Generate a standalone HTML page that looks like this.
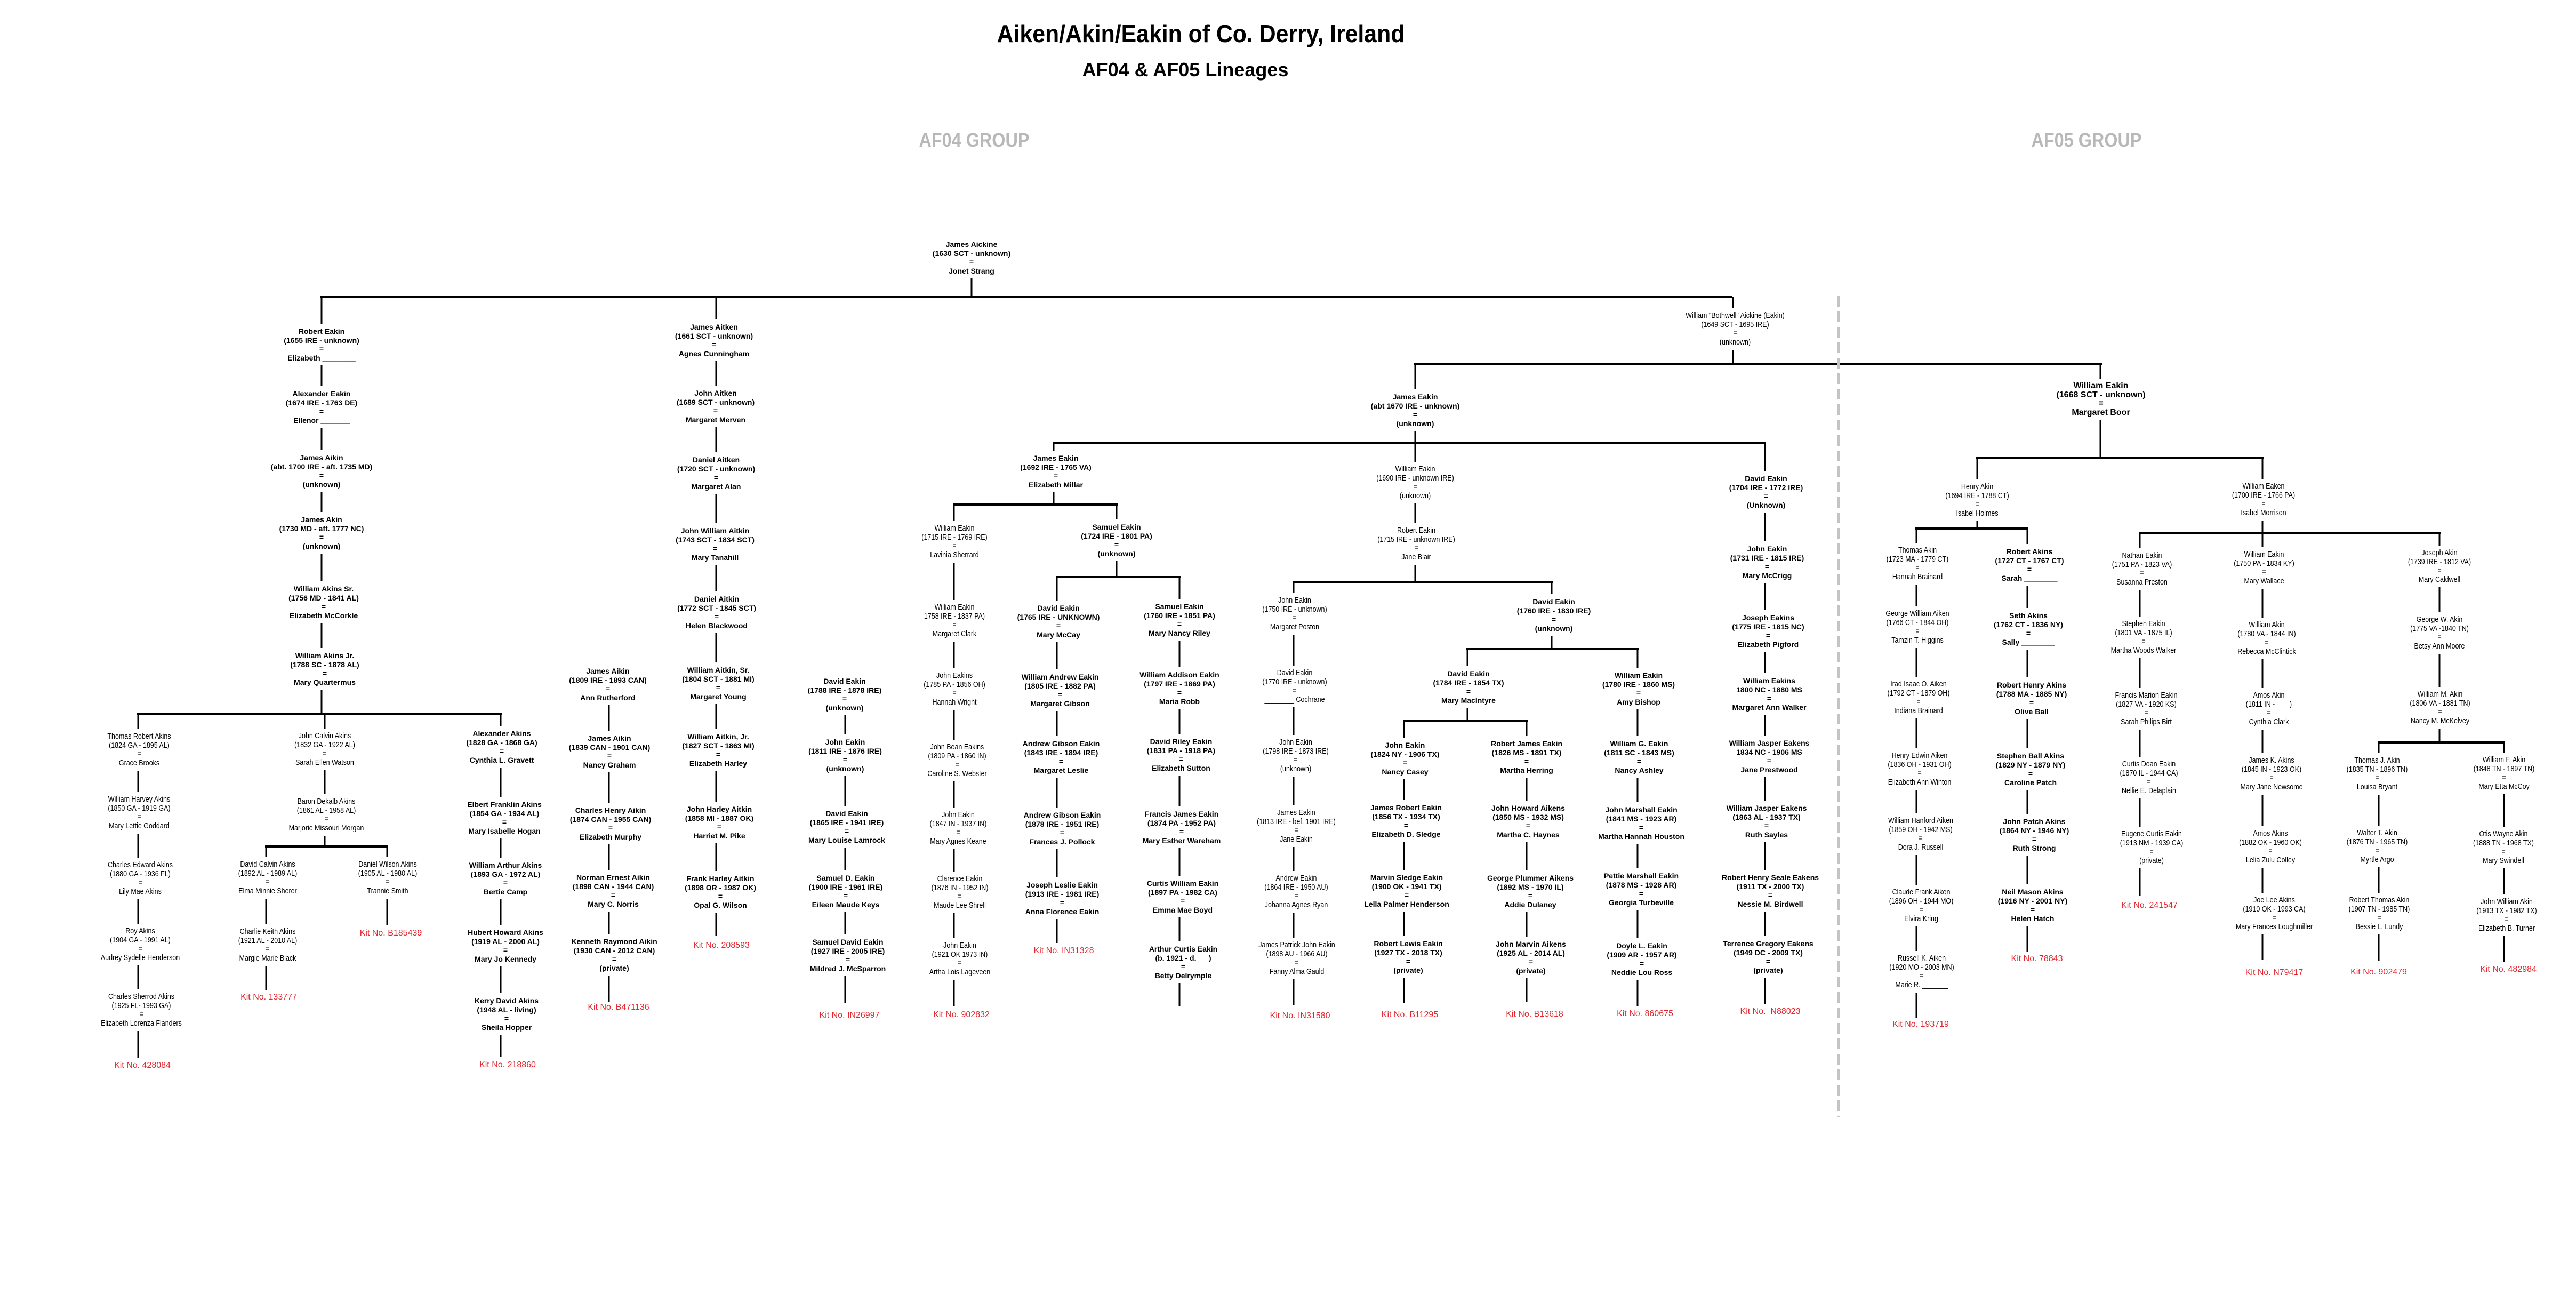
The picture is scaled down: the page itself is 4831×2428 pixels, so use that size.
<!DOCTYPE html>
<html><head><meta charset="utf-8">
<style>
html,body{margin:0;padding:0;background:#fff}
body{width:4831px;height:2428px;position:relative;overflow:hidden;font-family:"Liberation Sans",Arial,sans-serif;color:#000}
svg{position:absolute;left:0;top:0}
.n{position:absolute;transform:translateX(-50%);background:#fff;padding:6px 4px;text-align:center;white-space:nowrap;font-weight:bold;font-size:14px;line-height:16.5px}
.s{font-weight:normal;transform:translateX(-50%) scaleX(.86);font-size:14.5px}
.k{position:absolute;transform:translateX(-50%);color:#e3262e;font-size:16px;white-space:nowrap;line-height:18px}
.t{position:absolute;transform:translateX(-50%);font-weight:bold;white-space:nowrap}
.g{position:absolute;transform:translateX(-50%);font-weight:bold;color:#b8b8b8;font-size:36px;white-space:nowrap}
</style></head><body>
<div class="t" style="left:2252px;top:36px;font-size:46px;transform:translateX(-50%) scaleX(.93)">Aiken/Akin/Eakin of Co. Derry, Ireland</div>
<div class="t" style="left:2223px;top:110px;font-size:36px;transform:translateX(-50%) scaleX(1)">AF04 &amp; AF05 Lineages</div>
<div class="g" style="left:1827px;top:242px;transform:translateX(-50%) scaleX(.9)">AF04 GROUP</div>
<div class="g" style="left:3913px;top:242px;transform:translateX(-50%) scaleX(.9)">AF05 GROUP</div>

<svg width="4831" height="2428" xmlns="http://www.w3.org/2000/svg">
<g stroke="#000" stroke-width="4" fill="none">
<line x1="601" y1="557" x2="3249" y2="557"/>
<line x1="257" y1="1338" x2="941" y2="1338"/>
<line x1="497" y1="1587" x2="728" y2="1587"/>
<line x1="2652" y1="683" x2="3942" y2="683"/>
<line x1="1974" y1="830" x2="3312" y2="830"/>
<line x1="1787" y1="946" x2="2096" y2="946"/>
<line x1="1980" y1="1082" x2="2214" y2="1082"/>
<line x1="2424" y1="1091" x2="2912" y2="1091"/>
<line x1="2750" y1="1217" x2="3073" y2="1217"/>
<line x1="2631" y1="1352" x2="2865" y2="1352"/>
<line x1="3706" y1="859" x2="4245" y2="859"/>
<line x1="3592" y1="991" x2="3804" y2="991"/>
<line x1="4011" y1="999" x2="4577" y2="999"/>
<line x1="4459" y1="1392" x2="4698" y2="1392"/>
</g>
<g stroke="#000" stroke-width="3" fill="none">
<line x1="1822" y1="470" x2="1822" y2="557"/>
<line x1="603" y1="555" x2="603" y2="1338"/>
<line x1="259" y1="1336" x2="259" y2="1983"/>
<line x1="609" y1="1338" x2="609" y2="1587"/>
<line x1="499" y1="1585" x2="499" y2="1857"/>
<line x1="726" y1="1585" x2="726" y2="1734"/>
<line x1="939" y1="1336" x2="939" y2="1981"/>
<line x1="1142" y1="1270" x2="1142" y2="1878"/>
<line x1="1343" y1="557" x2="1343" y2="1755"/>
<line x1="1585" y1="1290" x2="1585" y2="1880"/>
<line x1="3250" y1="557" x2="3250" y2="683"/>
<line x1="2654" y1="683" x2="2654" y2="1091"/>
<line x1="1976" y1="828" x2="1976" y2="946"/>
<line x1="1789" y1="944" x2="1789" y2="1886"/>
<line x1="2094" y1="946" x2="2094" y2="1082"/>
<line x1="1982" y1="1080" x2="1982" y2="1768"/>
<line x1="2212" y1="1080" x2="2212" y2="1887"/>
<line x1="2426" y1="1089" x2="2426" y2="1884"/>
<line x1="2910" y1="1089" x2="2910" y2="1217"/>
<line x1="2752" y1="1215" x2="2752" y2="1352"/>
<line x1="2633" y1="1350" x2="2633" y2="1880"/>
<line x1="2863" y1="1350" x2="2863" y2="1878"/>
<line x1="3071" y1="1215" x2="3071" y2="1886"/>
<line x1="3310" y1="828" x2="3310" y2="1882"/>
<line x1="3939" y1="681" x2="3939" y2="859"/>
<line x1="3708" y1="857" x2="3708" y2="991"/>
<line x1="3594" y1="989" x2="3594" y2="1908"/>
<line x1="3802" y1="989" x2="3802" y2="1784"/>
<line x1="4243" y1="859" x2="4243" y2="1800"/>
<line x1="4013" y1="997" x2="4013" y2="1680"/>
<line x1="4575" y1="997" x2="4575" y2="1392"/>
<line x1="4461" y1="1390" x2="4461" y2="1802"/>
<line x1="4696" y1="1390" x2="4696" y2="1803"/>
</g>
<line x1="3448" y1="555" x2="3448" y2="2095" stroke="#c4c4c4" stroke-width="5" stroke-dasharray="20,9"/>
</svg>

<div class="n" style="left:1822px;top:444px">James Aickine<br>(1630 SCT - unknown)<br>=<br>Jonet Strang</div>

<div class="n" style="left:603px;top:607px">Robert Eakin<br>(1655 IRE - unknown)<br>=<br>Elizabeth ________</div>
<div class="n" style="left:603px;top:724px">Alexander Eakin<br>(1674 IRE - 1763 DE)<br>=<br>Ellenor _______</div>
<div class="n" style="left:603px;top:844px">James Aikin<br>(abt. 1700 IRE - aft. 1735 MD)<br>=<br>(unknown)</div>
<div class="n" style="left:603px;top:960px">James Akin<br>(1730 MD - aft. 1777 NC)<br>=<br>(unknown)</div>
<div class="n" style="left:607px;top:1090px">William Akins Sr.<br>(1756 MD - 1841 AL)<br>=<br>Elizabeth McCorkle</div>
<div class="n" style="left:609px;top:1215px">William Akins Jr.<br>(1788 SC - 1878 AL)<br>=<br>Mary Quartermus</div>

<div class="n s" style="left:261px;top:1367px">Thomas Robert Akins<br>(1824 GA - 1895 AL)<br>=<br>Grace Brooks</div>
<div class="n s" style="left:261px;top:1485px">William Harvey Akins<br>(1850 GA - 1919 GA)<br>=<br>Mary Lettie Goddard</div>
<div class="n s" style="left:263px;top:1608px">Charles Edward Akins<br>(1880 GA - 1936 FL)<br>=<br>Lily Mae Akins</div>
<div class="n s" style="left:263px;top:1732px">Roy Akins<br>(1904 GA - 1991 AL)<br>=<br>Audrey Sydelle Henderson</div>
<div class="n s" style="left:265px;top:1855px">Charles Sherrod Akins<br>(1925 FL- 1993 GA)<br>=<br>Elizabeth Lorenza Flanders</div>
<div class="k" style="left:267px;top:1989px">Kit No. 428084</div>

<div class="n s" style="left:609px;top:1366px">John Calvin Akins<br>(1832 GA - 1922 AL)<br>=<br>Sarah Ellen Watson</div>
<div class="n s" style="left:612px;top:1489px">Baron Dekalb Akins<br>(1861 AL - 1958 AL)<br>=<br>Marjorie Missouri Morgan</div>
<div class="n s" style="left:502px;top:1607px">David Calvin Akins<br>(1892 AL - 1989 AL)<br>=<br>Elma Minnie Sherer</div>
<div class="n s" style="left:502px;top:1733px">Charlie Keith Akins<br>(1921 AL - 2010 AL)<br>=<br>Margie Marie Black</div>
<div class="k" style="left:504px;top:1861px">Kit No. 133777</div>
<div class="n s" style="left:727px;top:1607px">Daniel Wilson Akins<br>(1905 AL - 1980 AL)<br>=<br>Trannie Smith</div>
<div class="k" style="left:733px;top:1741px">Kit No. B185439</div>

<div class="n" style="left:941px;top:1361px">Alexander Akins<br>(1828 GA - 1868 GA)<br>=<br>Cynthia L. Gravett</div>
<div class="n" style="left:946px;top:1494px">Elbert Franklin Akins<br>(1854 GA - 1934 AL)<br>=<br>Mary Isabelle Hogan</div>
<div class="n" style="left:948px;top:1608px">William Arthur Akins<br>(1893 GA - 1972 AL)<br>=<br>Bertie Camp</div>
<div class="n" style="left:948px;top:1734px">Hubert Howard Akins<br>(1919 AL - 2000 AL)<br>=<br>Mary Jo Kennedy</div>
<div class="n" style="left:950px;top:1862px">Kerry David Akins<br>(1948 AL - living)<br>=<br>Sheila Hopper</div>
<div class="k" style="left:952px;top:1988px">Kit No. 218860</div>

<div class="n" style="left:1140px;top:1244px">James Aikin<br>(1809 IRE - 1893 CAN)<br>=<br>Ann Rutherford</div>
<div class="n" style="left:1143px;top:1370px">James Aikin<br>(1839 CAN - 1901 CAN)<br>=<br>Nancy Graham</div>
<div class="n" style="left:1145px;top:1505px">Charles Henry Aikin<br>(1874 CAN - 1955 CAN)<br>=<br>Elizabeth Murphy</div>
<div class="n" style="left:1150px;top:1631px">Norman Ernest Aikin<br>(1898 CAN - 1944 CAN)<br>=<br>Mary C. Norris</div>
<div class="n" style="left:1152px;top:1751px">Kenneth Raymond Aikin<br>(1930 CAN - 2012 CAN)<br>=<br>(private)</div>
<div class="k" style="left:1160px;top:1880px">Kit No. B471136</div>

<div class="n" style="left:1339px;top:599px">James Aitken<br>(1661 SCT - unknown)<br>=<br>Agnes Cunningham</div>
<div class="n" style="left:1342px;top:723px">John Aitken<br>(1689 SCT - unknown)<br>=<br>Margaret Merven</div>
<div class="n" style="left:1343px;top:848px">Daniel Aitken<br>(1720 SCT - unknown)<br>=<br>Margaret Alan</div>
<div class="n" style="left:1341px;top:981px">John William Aitkin<br>(1743 SCT - 1834 SCT)<br>=<br>Mary Tanahill</div>
<div class="n" style="left:1344px;top:1109px">Daniel Aitkin<br>(1772 SCT - 1845 SCT)<br>=<br>Helen Blackwood</div>
<div class="n" style="left:1347px;top:1242px">William Aitkin, Sr.<br>(1804 SCT - 1881 MI)<br>=<br>Margaret Young</div>
<div class="n" style="left:1347px;top:1367px">William Aitkin, Jr.<br>(1827 SCT - 1863 MI)<br>=<br>Elizabeth Harley</div>
<div class="n" style="left:1349px;top:1503px">John Harley Aitkin<br>(1858 MI - 1887 OK)<br>=<br>Harriet M. Pike</div>
<div class="n" style="left:1351px;top:1633px">Frank Harley Aitkin<br>(1898 OR - 1987 OK)<br>=<br>Opal G. Wilson</div>
<div class="k" style="left:1353px;top:1764px">Kit No. 208593</div>

<div class="n" style="left:1584px;top:1263px">David Eakin<br>(1788 IRE - 1878 IRE)<br>=<br>(unknown)</div>
<div class="n" style="left:1585px;top:1377px">John Eakin<br>(1811 IRE - 1876 IRE)<br>=<br>(unknown)</div>
<div class="n" style="left:1588px;top:1511px">David Eakin<br>(1865 IRE - 1941 IRE)<br>=<br>Mary Louise Lamrock</div>
<div class="n" style="left:1586px;top:1632px">Samuel D. Eakin<br>(1900 IRE - 1961 IRE)<br>=<br>Eileen Maude Keys</div>
<div class="n" style="left:1590px;top:1752px">Samuel David Eakin<br>(1927 IRE - 2005 IRE)<br>=<br>Mildred J. McSparron</div>
<div class="k" style="left:1593px;top:1895px">Kit No. IN26997</div>

<div class="n s" style="left:3254px;top:578px">William "Bothwell" Aickine (Eakin)<br>(1649 SCT - 1695 IRE)<br>=<br>(unknown)</div>
<div class="n" style="left:2654px;top:730px">James Eakin<br>(abt 1670 IRE - unknown)<br>=<br>(unknown)</div>
<div class="n s" style="left:2654px;top:866px">William Eakin<br>(1690 IRE - unknown IRE)<br>=<br>(unknown)</div>
<div class="n s" style="left:2656px;top:981px">Robert Eakin<br>(1715 IRE - unknown IRE)<br>=<br>Jane Blair</div>

<div class="n" style="left:1980px;top:845px">James Eakin<br>(1692 IRE - 1765 VA)<br>=<br>Elizabeth Millar</div>

<div class="n s" style="left:1790px;top:977px">William Eakin<br>(1715 IRE - 1769 IRE)<br>=<br>Lavinia Sherrard</div>
<div class="n s" style="left:1790px;top:1125px">William Eakin<br>1758 IRE - 1837 PA)<br>=<br>Margaret Clark</div>
<div class="n s" style="left:1790px;top:1253px">John Eakins<br>(1785 PA - 1856 OH)<br>=<br>Hannah Wright</div>
<div class="n s" style="left:1795px;top:1387px">John Bean Eakins<br>(1809 PA - 1860 IN)<br>=<br>Caroline S. Webster</div>
<div class="n s" style="left:1797px;top:1514px">John Eakin<br>(1847 IN - 1937 IN)<br>=<br>Mary Agnes Keane</div>
<div class="n s" style="left:1800px;top:1634px">Clarence Eakin<br>(1876 IN - 1952 IN)<br>=<br>Maude Lee Shrell</div>
<div class="n s" style="left:1800px;top:1759px">John Eakin<br>(1921 OK 1973 IN)<br>=<br>Artha Lois Lageveen</div>
<div class="k" style="left:1803px;top:1894px">Kit No. 902832</div>

<div class="n" style="left:2094px;top:974px">Samuel Eakin<br>(1724 IRE - 1801 PA)<br>=<br>(unknown)</div>
<div class="n" style="left:1985px;top:1126px">David Eakin<br>(1765 IRE - UNKNOWN)<br>=<br>Mary McCay</div>
<div class="n" style="left:1988px;top:1255px">William Andrew Eakin<br>(1805 IRE - 1882 PA)<br>=<br>Margaret Gibson</div>
<div class="n" style="left:1990px;top:1380px">Andrew Gibson Eakin<br>(1843 IRE - 1894 IRE)<br>=<br>Margaret Leslie</div>
<div class="n" style="left:1992px;top:1514px">Andrew Gibson Eakin<br>(1878 IRE - 1951 IRE)<br>=<br>Frances J. Pollock</div>
<div class="n" style="left:1992px;top:1645px">Joseph Leslie Eakin<br>(1913 IRE - 1981 IRE)<br>=<br>Anna Florence Eakin</div>
<div class="k" style="left:1995px;top:1774px">Kit No. IN31328</div>

<div class="n" style="left:2212px;top:1123px">Samuel Eakin<br>(1760 IRE - 1851 PA)<br>=<br>Mary Nancy Riley</div>
<div class="n" style="left:2212px;top:1251px">William Addison Eakin<br>(1797 IRE - 1869 PA)<br>=<br>Maria Robb</div>
<div class="n" style="left:2215px;top:1376px">David Riley Eakin<br>(1831 PA - 1918 PA)<br>=<br>Elizabeth Sutton</div>
<div class="n" style="left:2216px;top:1512px">Francis James Eakin<br>(1874 PA - 1952 PA)<br>=<br>Mary Esther Wareham</div>
<div class="n" style="left:2218px;top:1642px">Curtis William Eakin<br>(1897 PA - 1982 CA)<br>=<br>Emma Mae Boyd</div>
<div class="n" style="left:2219px;top:1765px">Arthur Curtis Eakin<br>(b. 1921 - d. &nbsp;&nbsp;&nbsp;&nbsp;&nbsp;)<br>=<br>Betty Delrymple</div>

<div class="n s" style="left:2428px;top:1112px">John Eakin<br>(1750 IRE - unknown)<br>=<br>Margaret Poston</div>
<div class="n s" style="left:2428px;top:1248px">David Eakin<br>(1770 IRE - unknown)<br>=<br>________ Cochrane</div>
<div class="n s" style="left:2430px;top:1378px">John Eakin<br>(1798 IRE - 1873 IRE)<br>=<br>(unknown)</div>
<div class="n s" style="left:2431px;top:1510px">James Eakin<br>(1813 IRE - bef. 1901 IRE)<br>=<br>Jane Eakin</div>
<div class="n s" style="left:2431px;top:1633px">Andrew Eakin<br>(1864 IRE - 1950 AU)<br>=<br>Johanna Agnes Ryan</div>
<div class="n s" style="left:2432px;top:1758px">James Patrick John Eakin<br>(1898 AU - 1966 AU)<br>=<br>Fanny Alma Gauld</div>
<div class="k" style="left:2438px;top:1896px">Kit No. IN31580</div>

<div class="n" style="left:2914px;top:1114px">David Eakin<br>(1760 IRE - 1830 IRE)<br>=<br>(unknown)</div>
<div class="n" style="left:2754px;top:1249px">David Eakin<br>(1784 IRE - 1854 TX)<br>=<br>Mary MacIntyre</div>
<div class="n" style="left:2635px;top:1383px">John Eakin<br>(1824 NY - 1906 TX)<br>=<br>Nancy Casey</div>
<div class="n" style="left:2637px;top:1500px">James Robert Eakin<br>(1856 TX - 1934 TX)<br>=<br>Elizabeth D. Sledge</div>
<div class="n" style="left:2638px;top:1631px">Marvin Sledge Eakin<br>(1900 OK - 1941 TX)<br>=<br>Lella Palmer Henderson</div>
<div class="n" style="left:2641px;top:1755px">Robert Lewis Eakin<br>(1927 TX - 2018 TX)<br>=<br>(private)</div>
<div class="k" style="left:2644px;top:1894px">Kit No. B11295</div>
<div class="n" style="left:2863px;top:1380px">Robert James Eakin<br>(1826 MS - 1891 TX)<br>=<br>Martha Herring</div>
<div class="n" style="left:2866px;top:1501px">John Howard Aikens<br>(1850 MS - 1932 MS)<br>=<br>Martha C. Haynes</div>
<div class="n" style="left:2870px;top:1632px">George Plummer Aikens<br>(1892 MS - 1970 IL)<br>=<br>Addie Dulaney</div>
<div class="n" style="left:2871px;top:1756px">John Marvin Aikens<br>(1925 AL - 2014 AL)<br>=<br>(private)</div>
<div class="k" style="left:2878px;top:1893px">Kit No. B13618</div>

<div class="n" style="left:3073px;top:1252px">William Eakin<br>(1780 IRE - 1860 MS)<br>=<br>Amy Bishop</div>
<div class="n" style="left:3074px;top:1380px">William G. Eakin<br>(1811 SC - 1843 MS)<br>=<br>Nancy Ashley</div>
<div class="n" style="left:3078px;top:1504px">John Marshall Eakin<br>(1841 MS - 1923 AR)<br>=<br>Martha Hannah Houston</div>
<div class="n" style="left:3078px;top:1628px">Pettie Marshall Eakin<br>(1878 MS - 1928 AR)<br>=<br>Georgia Turbeville</div>
<div class="n" style="left:3079px;top:1759px">Doyle L. Eakin<br>(1909 AR - 1957 AR)<br>=<br>Neddie Lou Ross</div>
<div class="k" style="left:3085px;top:1892px">Kit No. 860675</div>

<div class="n" style="left:3312px;top:883px">David Eakin<br>(1704 IRE - 1772 IRE)<br>=<br>(Unknown)</div>
<div class="n" style="left:3314px;top:1015px">John Eakin<br>(1731 IRE - 1815 IRE)<br>=<br>Mary McCrigg</div>
<div class="n" style="left:3316px;top:1144px">Joseph Eakins<br>(1775 IRE - 1815 NC)<br>=<br>Elizabeth Pigford</div>
<div class="n" style="left:3318px;top:1262px">William Eakins<br>1800 NC - 1880 MS<br>=<br>Margaret Ann Walker</div>
<div class="n" style="left:3318px;top:1379px">William Jasper Eakens<br>1834 NC - 1906 MS<br>=<br>Jane Prestwood</div>
<div class="n" style="left:3313px;top:1501px">William Jasper Eakens<br>(1863 AL - 1937 TX)<br>=<br>Ruth Sayles</div>
<div class="n" style="left:3320px;top:1631px">Robert Henry Seale Eakens<br>(1911 TX - 2000 TX)<br>=<br>Nessie M. Birdwell</div>
<div class="n" style="left:3316px;top:1755px">Terrence Gregory Eakens<br>(1949 DC - 2009 TX)<br>=<br>(private)</div>
<div class="k" style="left:3320px;top:1888px">Kit No. &nbsp;N88023</div>

<div class="n" style="left:3940px;top:710px;font-size:16px">William Eakin<br>(1668 SCT - unknown)<br>=<br>Margaret Boor</div>
<div class="n s" style="left:3708px;top:899px">Henry Akin<br>(1694 IRE - 1788 CT)<br>=<br>Isabel Holmes</div>
<div class="n s" style="left:3596px;top:1018px">Thomas Akin<br>(1723 MA - 1779 CT)<br>=<br>Hannah Brainard</div>
<div class="n s" style="left:3596px;top:1137px">George William Aiken<br>(1766 CT - 1844 OH)<br>=<br>Tamzin T. Higgins</div>
<div class="n s" style="left:3598px;top:1269px">Irad Isaac O. Aiken<br>(1792 CT - 1879 OH)<br>=<br>Indiana Brainard</div>
<div class="n s" style="left:3600px;top:1403px">Henry Edwin Aiken<br>(1836 OH - 1931 OH)<br>=<br>Elizabeth Ann Winton</div>
<div class="n s" style="left:3602px;top:1525px">William Hanford Aiken<br>(1859 OH - 1942 MS)<br>=<br>Dora J. Russell</div>
<div class="n s" style="left:3603px;top:1659px">Claude Frank Aiken<br>(1896 OH - 1944 MO)<br>=<br>Elvira Kring</div>
<div class="n s" style="left:3604px;top:1783px">Russell K. Aiken<br>(1920 MO - 2003 MN)<br>=<br>Marie R. _______</div>
<div class="k" style="left:3602px;top:1912px">Kit No. 193719</div>

<div class="n" style="left:3806px;top:1020px">Robert Akins<br>(1727 CT - 1767 CT)<br>=<br>Sarah ________</div>
<div class="n" style="left:3804px;top:1140px">Seth Akins<br>(1762 CT - 1836 NY)<br>=<br>Sally ________</div>
<div class="n" style="left:3810px;top:1270px">Robert Henry Akins<br>(1788 MA - 1885 NY)<br>=<br>Olive Ball</div>
<div class="n" style="left:3808px;top:1403px">Stephen Ball Akins<br>(1829 NY - 1879 NY)<br>=<br>Caroline Patch</div>
<div class="n" style="left:3815px;top:1526px">John Patch Akins<br>(1864 NY - 1946 NY)<br>=<br>Ruth Strong</div>
<div class="n" style="left:3812px;top:1658px">Neil Mason Akins<br>(1916 NY - 2001 NY)<br>=<br>Helen Hatch</div>
<div class="k" style="left:3820px;top:1789px">Kit No. 78843</div>

<div class="n s" style="left:4245px;top:898px">William Eaken<br>(1700 IRE - 1766 PA)<br>=<br>Isabel Morrison</div>
<div class="n s" style="left:4017px;top:1028px">Nathan Eakin<br>(1751 PA - 1823 VA)<br>=<br>Susanna Preston</div>
<div class="n s" style="left:4020px;top:1156px">Stephen Eakin<br>(1801 VA - 1875 IL)<br>=<br>Martha Woods Walker</div>
<div class="n s" style="left:4025px;top:1290px">Francis Marion Eakin<br>(1827 VA - 1920 KS)<br>=<br>Sarah Philips Birt</div>
<div class="n s" style="left:4030px;top:1419px">Curtis Doan Eakin<br>(1870 IL - 1944 CA)<br>=<br>Nellie E. Delaplain</div>
<div class="n s" style="left:4035px;top:1550px">Eugene Curtis Eakin<br>(1913 NM - 1939 CA)<br>=<br>(private)</div>
<div class="k" style="left:4031px;top:1689px">Kit No. 241547</div>

<div class="n s" style="left:4246px;top:1026px">William Eakin<br>(1750 PA - 1834 KY)<br>=<br>Mary Wallace</div>
<div class="n s" style="left:4251px;top:1158px">William Akin<br>(1780 VA - 1844 IN)<br>=<br>Rebecca McClintick</div>
<div class="n s" style="left:4255px;top:1290px">Amos Akin<br>(1811 IN - &nbsp;&nbsp;&nbsp;&nbsp;&nbsp;&nbsp;&nbsp;)<br>=<br>Cynthia Clark</div>
<div class="n s" style="left:4260px;top:1412px">James K. Akins<br>(1845 IN - 1923 OK)<br>=<br>Mary Jane Newsome</div>
<div class="n s" style="left:4258px;top:1549px">Amos Akins<br>(1882 OK - 1960 OK)<br>=<br>Lelia Zulu Colley</div>
<div class="n s" style="left:4265px;top:1674px">Joe Lee Akins<br>(1910 OK - 1993 CA)<br>=<br>Mary Frances Loughmiller</div>
<div class="k" style="left:4265px;top:1815px">Kit No. N79417</div>

<div class="n s" style="left:4575px;top:1023px">Joseph Akin<br>(1739 IRE - 1812 VA)<br>=<br>Mary Caldwell</div>
<div class="n s" style="left:4575px;top:1148px">George W. Akin<br>(1775 VA -1840 TN)<br>=<br>Betsy Ann Moore</div>
<div class="n s" style="left:4576px;top:1288px">William M. Akin<br>(1806 VA - 1881 TN)<br>=<br>Nancy M. McKelvey</div>
<div class="n s" style="left:4458px;top:1412px">Thomas J. Akin<br>(1835 TN - 1896 TN)<br>=<br>Louisa Bryant</div>
<div class="n s" style="left:4458px;top:1548px">Walter T. Akin<br>(1876 TN - 1965 TN)<br>=<br>Myrtle Argo</div>
<div class="n s" style="left:4462px;top:1674px">Robert Thomas Akin<br>(1907 TN - 1985 TN)<br>=<br>Bessie L. Lundy</div>
<div class="k" style="left:4461px;top:1814px">Kit No. 902479</div>
<div class="n s" style="left:4696px;top:1411px">William F. Akin<br>(1848 TN - 1897 TN)<br>=<br>Mary Etta McCoy</div>
<div class="n s" style="left:4695px;top:1550px">Otis Wayne Akin<br>(1888 TN - 1968 TX)<br>=<br>Mary Swindell</div>
<div class="n s" style="left:4701px;top:1677px">John William Akin<br>(1913 TX - 1982 TX)<br>=<br>Elizabeth B. Turner</div>
<div class="k" style="left:4704px;top:1809px">Kit No. 482984</div>
</body></html>
